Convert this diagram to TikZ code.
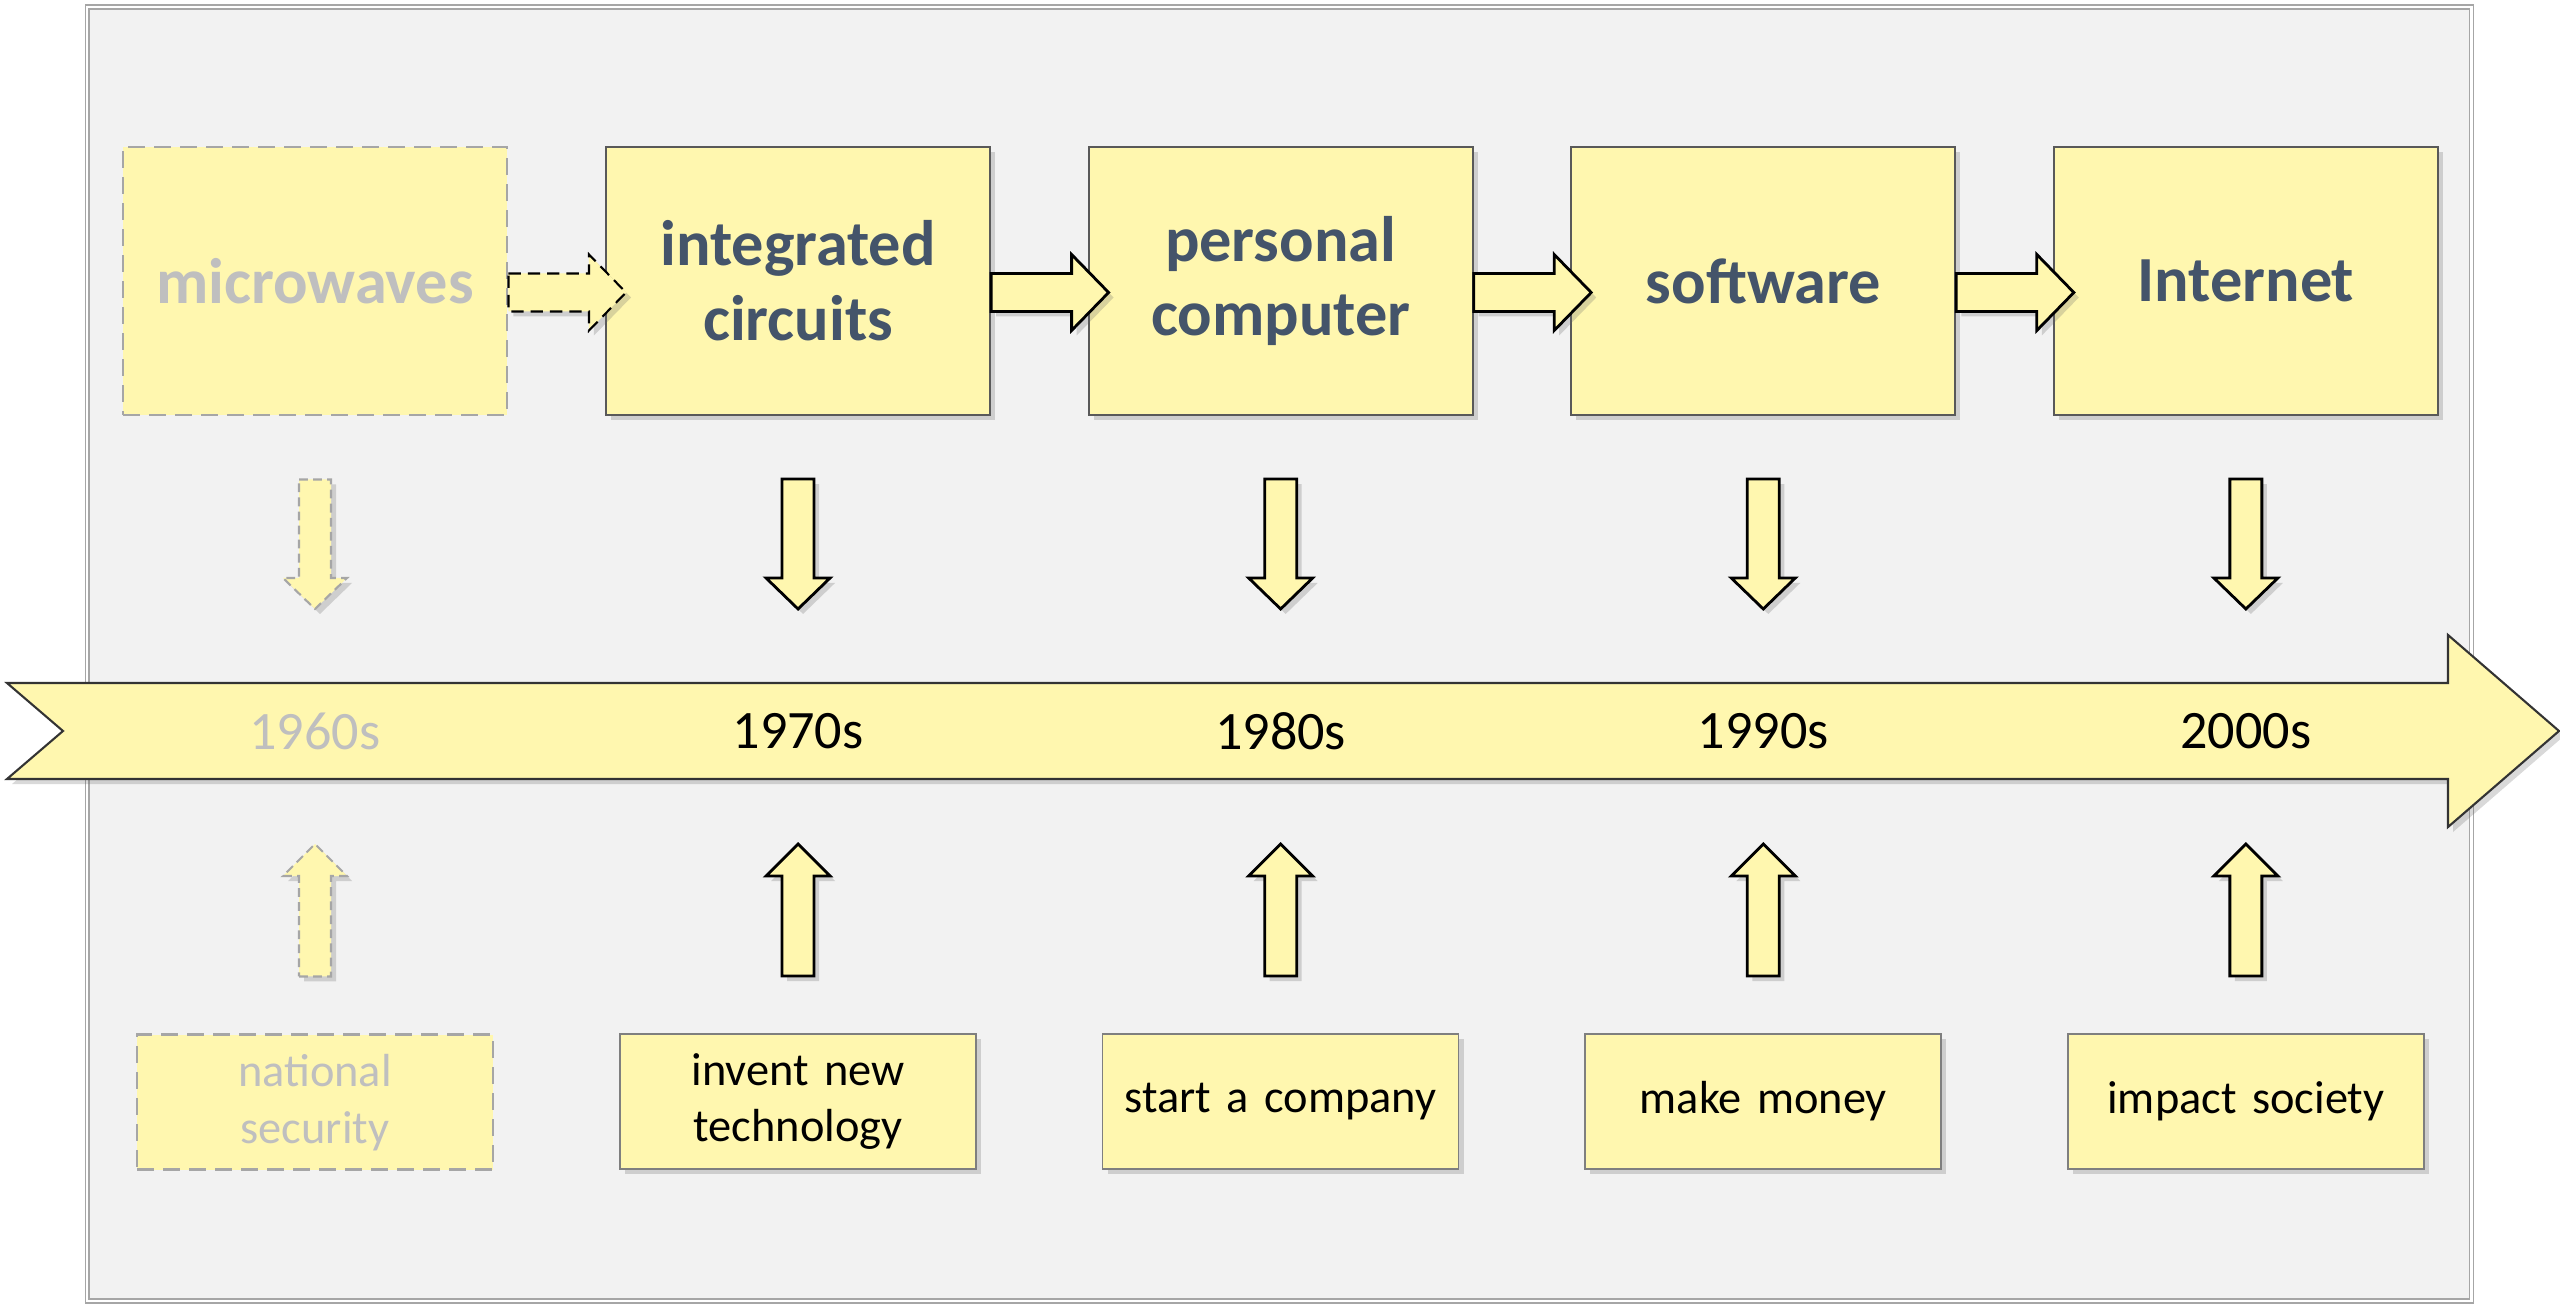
\documentclass[tikz,border=0pt]{standalone}
\usepackage{fontspec}
\setmainfont{Carlito}
\usetikzlibrary{positioning, calc, shadows}

\definecolor{boxfill}{HTML}{FFF7AF}
\definecolor{panel}{HTML}{F2F2F2}
\definecolor{frameline}{HTML}{A6A6A6}
\definecolor{titletext}{HTML}{44546A}
\definecolor{fadetext}{HTML}{BFBFBF}
\definecolor{boxline}{HTML}{595959}
\definecolor{goalline}{HTML}{7F7F7F}

% fat arrows between named nodes
\newcommand{\fatright}[3][]{%
  \draw[fat,#1] let \p1=(#2.east), \p2=(#3.west) in
    ({\x1},{\y1+0.075cm}) -- ({\x2-0.16cm},{\y1+0.075cm}) -- ({\x2-0.16cm},{\y1+0.265cm})
    -- ({\x2+0.21cm},{\y1-0.115cm}) -- ({\x2-0.16cm},{\y1-0.495cm}) -- ({\x2-0.16cm},{\y1-0.305cm})
    -- ({\x1},{\y1-0.305cm}) -- cycle;}
\newcommand{\fatdown}[3][]{%
  \draw[fat,#1] let \p1=(#2.south), \p2=(#3) in
    ({\x1-0.16cm},{\y1-0.63cm}) -- ({\x1+0.16cm},{\y1-0.63cm}) -- ({\x1+0.16cm},{\y2+1.53cm})
    -- ({\x1+0.32cm},{\y2+1.53cm}) -- ({\x1},{\y2+1.22cm}) -- ({\x1-0.32cm},{\y2+1.53cm})
    -- ({\x1-0.16cm},{\y2+1.53cm}) -- cycle;}
\newcommand{\fatup}[3][]{%
  \draw[fat,#1] let \p1=(#2.north), \p2=(#3) in
    ({\x1-0.16cm},{\y1+0.57cm}) -- ({\x1+0.16cm},{\y1+0.57cm}) -- ({\x1+0.16cm},{\y2-1.45cm})
    -- ({\x1+0.32cm},{\y2-1.45cm}) -- ({\x1},{\y2-1.13cm}) -- ({\x1-0.32cm},{\y2-1.45cm})
    -- ({\x1-0.16cm},{\y2-1.45cm}) -- cycle;}

\begin{document}
\begin{tikzpicture}[
    x=1cm, y=1cm,
    topbox/.style={draw=boxline, line width=0.6pt, fill=boxfill, minimum width=3.84cm, minimum height=2.68cm, text width=3.6cm, align=center, inner sep=0pt, text=titletext, font=\fontsize{18.3}{21.3}\selectfont\bfseries},
    goalbox/.style={draw=goalline, line width=0.45pt, fill=boxfill, minimum width=3.56cm, minimum height=1.35cm, text width=3.4cm, align=center, inner sep=0pt, font=\fontsize{13.2}{16.1}\selectfont},
    faded/.style={draw=frameline, dash pattern=on 4.8pt off 2.6pt, line width=0.85pt, text=fadetext},
    year/.style={inner sep=0pt, font=\fontsize{15.4}{18}\selectfont},
    fat/.style={draw=black, line width=0.8pt, fill=boxfill},
    shade/.style={drop shadow={shadow xshift=0.05cm, shadow yshift=-0.05cm, opacity=0.25, fill=black!60}},
    fadedarrow/.style={draw=frameline, dash pattern=on 2.5pt off 1.5pt, line width=0.6pt},
    dashedarrow/.style={dash pattern=on 3.5pt off 2pt, line width=0.6pt}
]
\useasboundingbox (0,0) rectangle (25.6,13.04);
\draw[draw=frameline, line width=0.45pt, double=white, double distance=0.6pt, fill=panel] (0.873,0.03) rectangle (24.715,12.97);

% top row
\node[topbox, faded] (micro) at (3.15,10.23) {microwaves};
\node[topbox, shade, right=0.965cm of micro] (ic) {integrated\\circuits};
\node[topbox, shade, right=0.965cm of ic] (pc) {personal\\computer};
\node[topbox, shade, right=0.965cm of pc] (sw) {software};
\node[topbox, shade, right=0.965cm of sw] (net) {Internet};

\fatright[dashedarrow, shade]{micro}{ic}
\fatright[shade]{ic}{pc}
\fatright[shade]{pc}{sw}
\fatright[shade]{sw}{net}

% timeline
\draw[fat, draw=black!80, line width=0.6pt, shade] (0.07,6.21) -- (24.48,6.21) -- (24.48,6.69) -- (25.59,5.73)
    -- (24.48,4.77) -- (24.48,5.25) -- (0.07,5.25) -- (0.63,5.73) -- cycle;
\coordinate (axis) at (0,5.73);
\node[year, text=fadetext] (y60) at (micro |- axis) {1960s};
\node[year] (y70) at (ic |- axis) {1970s};
\node[year] (y80) at (pc |- axis) {1980s};
\node[year] (y90) at (sw |- axis) {1990s};
\node[year] (y00) at (net |- axis) {2000s};

% bottom row
\node[goalbox, faded, below=6.17cm of micro] (sec) {national\\security};
\node[goalbox, shade, below=6.17cm of ic] (inv) {invent new\\technology};
\node[goalbox, shade, below=6.17cm of pc] (comp) {start a company};
\node[goalbox, shade, below=6.17cm of sw] (money) {make money};
\node[goalbox, shade, below=6.17cm of net] (soc) {impact society};

\fatdown[fadedarrow, shade]{micro}{y60}
\fatdown[shade]{ic}{y70}
\fatdown[shade]{pc}{y80}
\fatdown[shade]{sw}{y90}
\fatdown[shade]{net}{y00}

\fatup[fadedarrow, shade]{sec}{y60}
\fatup[shade]{inv}{y70}
\fatup[shade]{comp}{y80}
\fatup[shade]{money}{y90}
\fatup[shade]{soc}{y00}
\end{tikzpicture}
\end{document}
